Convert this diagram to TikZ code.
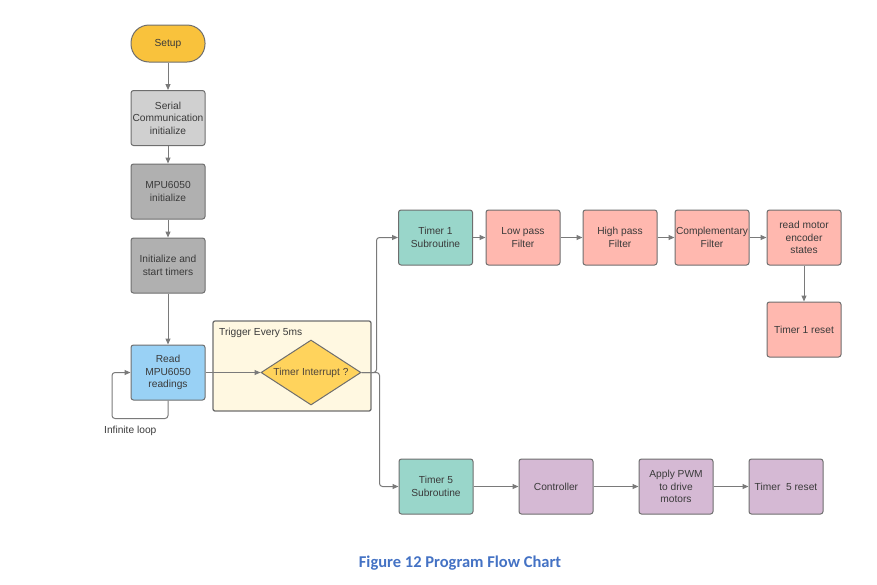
\documentclass[tikz,border=0pt]{standalone}
\usepackage{fontspec}
\setmainfont{Liberation Sans}
\newfontfamily\capfont{Carlito}
\usetikzlibrary{shapes.geometric,arrows.meta}
\definecolor{txt}{HTML}{3A3A3A}
\definecolor{bord}{HTML}{6E6E6E}
\definecolor{lin}{HTML}{7A7A7A}
\definecolor{setupc}{HTML}{F9C23C}
\definecolor{lgray}{HTML}{D0D0D0}
\definecolor{mgray}{HTML}{B0B0B0}
\definecolor{lblue}{HTML}{99D1F5}
\definecolor{cream}{HTML}{FFF8E1}
\definecolor{dyel}{HTML}{FFD35C}
\definecolor{teal}{HTML}{99D6CA}
\definecolor{salmon}{HTML}{FFB8AF}
\definecolor{lpurp}{HTML}{D5B9D4}
\definecolor{capblue}{HTML}{4472C4}
\tikzset{
  box/.style={draw=bord, line width=1pt, rounded corners=2.5pt, minimum width=74pt, minimum height=55pt, inner sep=0pt, align=center, text=txt, font=\fontsize{10.2}{12.4}\selectfont},
  conn/.style={draw=lin, line width=1pt, -{Triangle[length=6pt,width=5pt]}},
  plain/.style={draw=lin, line width=1pt},
}
\begin{document}
\begin{tikzpicture}[x=1pt,y=-1pt]
\useasboundingbox (0,0) rectangle (877,584);
% group box
\node[draw=bord, fill=cream, line width=1.3pt, rounded corners=2pt, minimum width=158pt, minimum height=90pt, inner sep=0pt] (grp) at (292,366) {};
\node[anchor=north west, text=txt, font=\fontsize{10.2}{12}\selectfont, inner sep=0pt] (grplbl) at (219,328) {Trigger Every 5ms};
% left column
\node[box, fill=setupc, rounded corners=18pt, minimum height=37pt] (setup) at (168,43.5) {Setup};
\node[box, fill=lgray] (serial) at (168,118) {Serial\\Communication\\initialize};
\node[box, fill=mgray] (mpu) at (168,191.5) {MPU6050\\initialize};
\node[box, fill=mgray] (init) at (168,265.5) {Initialize and\\start timers};
\node[box, fill=lblue] (read) at (168,372.5) {Read\\MPU6050\\readings};
\node[diamond, draw=bord, fill=dyel, line width=1pt, minimum width=100pt, minimum height=65pt, inner sep=0pt, aspect=1.54, text=txt!85!brown, font=\fontsize{10.2}{12}\selectfont] (dia) at (311,372.5) {Timer Interrupt ?};
% top row
\node[box, fill=teal] (t1) at (435.5,237.5) {Timer 1\\Subroutine};
\node[box, fill=salmon] (lp) at (523,237.5) {Low pass\\Filter};
\node[box, fill=salmon] (hp) at (620,237.5) {High pass\\Filter};
\node[box, fill=salmon] (cf) at (712,237.5) {Complementary\\Filter};
\node[box, fill=salmon] (enc) at (804,237.5) {read motor\\encoder\\states};
\node[box, fill=salmon] (t1r) at (804,329.5) {Timer 1 reset};
% bottom row
\node[box, fill=teal] (t5) at (436,486.5) {Timer 5\\Subroutine};
\node[box, fill=lpurp] (ctl) at (556,486.5) {Controller};
\node[box, fill=lpurp] (pwm) at (676,486.5) {Apply PWM\\to drive\\motors};
\node[box, fill=lpurp] (t5r) at (786,486.5) {Timer\ \ 5 reset};
% connectors
\draw[conn] (setup) -- (serial);
\draw[conn] (serial) -- (mpu);
\draw[conn] (mpu) -- (init);
\draw[conn] (init) -- (read);
\draw[conn] (read) -- (dia);
\draw[conn, rounded corners=3pt] (read.south) -- ++(0,18) -| (112,372.5) -- (read.west);
\node[anchor=north west, text=txt, font=\fontsize{10.2}{12}\selectfont, inner sep=0pt] (inf) at (104,426) {Infinite loop};
\draw[conn, rounded corners=3pt] (dia.east) -- (376.5,372.5) |- (t1.west);
\draw[conn, rounded corners=3pt] (dia.east) -- (379.5,372.5) |- (t5.west);
\draw[conn] (t1) -- (lp);
\draw[conn] (lp) -- (hp);
\draw[conn] (hp) -- (cf);
\draw[conn] (cf) -- (enc);
\draw[conn] (enc) -- (t1r);
\draw[conn] (t5) -- (ctl);
\draw[conn] (ctl) -- (pwm);
\draw[conn] (pwm) -- (t5r);
% caption
\node[text=capblue, font=\capfont\bfseries\fontsize{16.5}{19}\selectfont, inner sep=0pt] (cap) at (460,563) {Figure 12 Program Flow Chart};
\end{tikzpicture}
\end{document}
